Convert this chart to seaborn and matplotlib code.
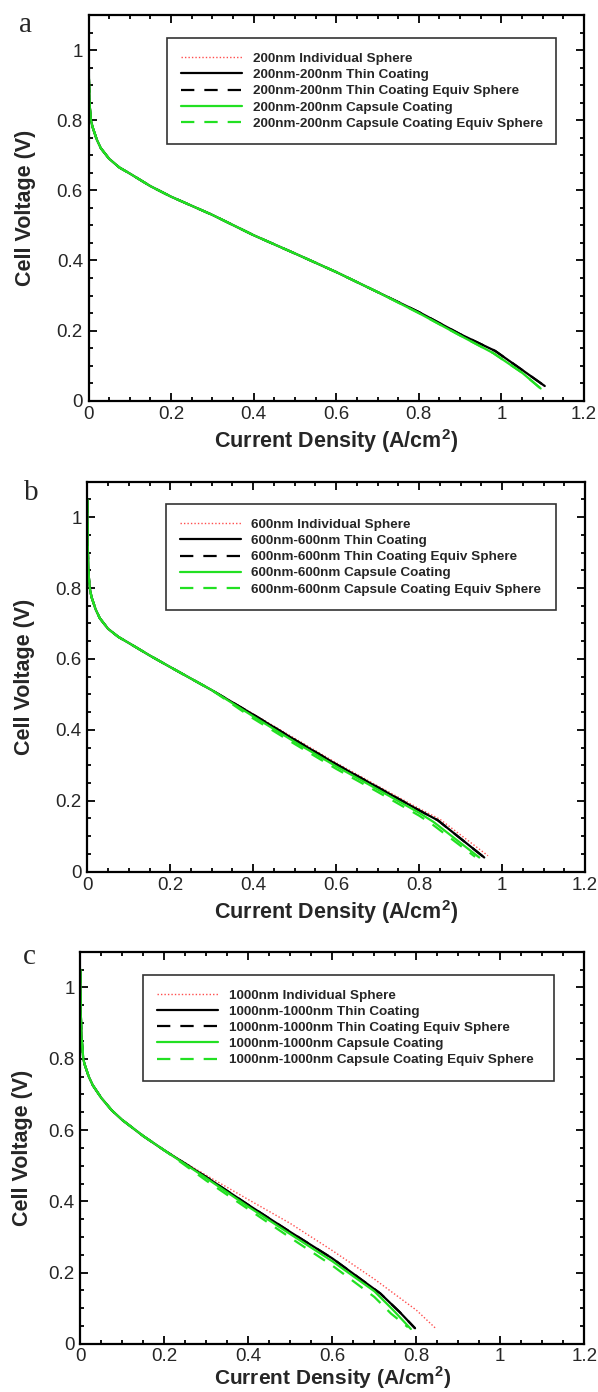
import seaborn as sns
import matplotlib.pyplot as plt
from matplotlib.ticker import MultipleLocator, FuncFormatter

# ---- panel a : 200nm ----
a_x_head = [0, 0.001, 0.003, 0.006, 0.01, 0.02, 0.03, 0.05, 0.075, 0.1, 0.15, 0.2, 0.3, 0.4, 0.5, 0.6, 0.7]
a_v_head = [1.05, 0.92, 0.84, 0.80, 0.78, 0.745, 0.72, 0.69, 0.665, 0.648, 0.612, 0.582, 0.53, 0.472, 0.42, 0.367, 0.31]
a_red_x = [0.8, 0.9, 0.985, 1.05, 1.105]
a_red_v = [0.253, 0.19, 0.142, 0.088, 0.042]
a_blk_x = [0.8, 0.9, 0.985, 1.05, 1.105]
a_blk_v = [0.253, 0.19, 0.142, 0.088, 0.042]
a_grn_x = [0.8, 0.9, 0.98, 1.05, 1.095]
a_grn_v = [0.25, 0.186, 0.136, 0.08, 0.035]

# ---- panel b : 600nm ----
b_x_head = [0, 0.001, 0.003, 0.006, 0.01, 0.02, 0.03, 0.05, 0.075, 0.1, 0.15, 0.2, 0.3]
b_v_head = [1.05, 0.92, 0.84, 0.80, 0.775, 0.74, 0.715, 0.685, 0.662, 0.645, 0.61, 0.577, 0.512]
b_red_x = [0.4, 0.5, 0.6, 0.7, 0.8, 0.85, 0.966]
b_red_v = [0.445, 0.376, 0.307, 0.242, 0.178, 0.148, 0.045]
b_blk_x = [0.4, 0.5, 0.6, 0.7, 0.8, 0.845, 0.957]
b_blk_v = [0.443, 0.372, 0.303, 0.238, 0.173, 0.145, 0.04]
b_grn_x = [0.4, 0.5, 0.6, 0.7, 0.8, 0.835, 0.945]
b_grn_v = [0.438, 0.366, 0.297, 0.232, 0.166, 0.14, 0.04]
b_grd_x = [0.4, 0.5, 0.6, 0.7, 0.8, 0.83, 0.935]
b_grd_v = [0.432, 0.36, 0.29, 0.225, 0.158, 0.135, 0.042]

# ---- panel c : 1000nm ----
c_x_head = [0, 0.001, 0.003, 0.007, 0.01, 0.02, 0.03, 0.05, 0.075, 0.1, 0.15, 0.2]
c_v_head = [1.05, 0.93, 0.86, 0.80, 0.785, 0.75, 0.725, 0.69, 0.655, 0.628, 0.583, 0.543]
c_red_x = [0.3, 0.4, 0.5, 0.6, 0.7, 0.8, 0.845]
c_red_v = [0.473, 0.405, 0.338, 0.262, 0.182, 0.095, 0.045]
c_blk_x = [0.3, 0.4, 0.5, 0.6, 0.714, 0.76, 0.797]
c_blk_v = [0.468, 0.39, 0.314, 0.24, 0.142, 0.09, 0.044]
c_grn_x = [0.3, 0.4, 0.5, 0.6, 0.7, 0.745, 0.787]
c_grn_v = [0.465, 0.385, 0.308, 0.232, 0.148, 0.095, 0.042]
c_grd_x = [0.3, 0.4, 0.5, 0.6, 0.7, 0.74, 0.78]
c_grd_v = [0.458, 0.378, 0.298, 0.22, 0.132, 0.085, 0.047]

names = ["{s}nm Individual Sphere", "{s}nm-{s}nm Thin Coating", "{s}nm-{s}nm Thin Coating Equiv Sphere",
         "{s}nm-{s}nm Capsule Coating", "{s}nm-{s}nm Capsule Coating Equiv Sphere"]

GREEN = "#22e022"
styles = [dict(color="#ff4d4d", lw=1.0, ls=(0, (1, 1.5))),
          dict(color="black", lw=1.6, ls="-"),
          dict(color="black", lw=1.6, ls=(0, (6, 4.5))),
          dict(color=GREEN, lw=1.6, ls="-"),
          dict(color=GREEN, lw=1.6, ls=(0, (6, 4.5)))]

panels = [
    dict(size=200, letter="a", head=(a_x_head, a_v_head),
         tails=[(a_red_x, a_red_v), (a_blk_x, a_blk_v), (a_blk_x, a_blk_v), (a_grn_x, a_grn_v), (a_grn_x, a_grn_v)],
         pos=[0.148, 0.7121, 0.8286, 0.2771], leg=(0.1584, 0.9396, 0.785), xpad=3, ypad=15, tpad=4, xfs=15.5),
    dict(size=600, letter="b", head=(b_x_head, b_v_head),
         tails=[(b_red_x, b_red_v), (b_blk_x, b_blk_v), (b_blk_x, b_blk_v), (b_grn_x, b_grn_v), (b_grd_x, b_grd_v)],
         pos=[0.146, 0.3738, 0.8323, 0.2802], leg=(0.158, 0.942, 0.784), xpad=3, ypad=15, tpad=4, xfs=15.5),
    dict(size=1000, letter="c", head=(c_x_head, c_v_head),
         tails=[(c_red_x, c_red_v), (c_blk_x, c_blk_v), (c_blk_x, c_blk_v), (c_grn_x, c_grn_v), (c_grd_x, c_grd_v)],
         pos=[0.1343, 0.0345, 0.8428, 0.2818], leg=(0.125, 0.9406, 0.815), xpad=-0.5, ypad=11, tpad=3, xfs=15),
]
letter_pos = [(26, 25), (31, 493), (29, 957)]

sns.set_style("ticks")
plt.rcParams['font.family'] = ['Liberation Sans', 'DejaVu Sans']
plt.rcParams['mathtext.fontset'] = 'custom'
plt.rcParams['mathtext.bf'] = 'Liberation Sans:bold'
plt.rcParams['mathtext.rm'] = 'Liberation Sans'

fig = plt.figure(figsize=(5.98, 13.92), dpi=100)
for p, (lx, ly) in zip(panels, letter_pos):
    ax = fig.add_axes(p["pos"])
    hx, hv = p["head"]
    for (tx, tv), st, nm in zip(p["tails"], styles, names):
        sns.lineplot(x=hx + tx, y=hv + tv, ax=ax, estimator=None, sort=False,
                     color=st["color"], lw=st["lw"], linestyle=st["ls"],
                     label=nm.format(s=p["size"]))
    ax.set_xlim(0, 1.2)
    ax.set_ylim(0, 1.1)
    ax.xaxis.set_major_locator(MultipleLocator(0.2))
    ax.xaxis.set_minor_locator(MultipleLocator(0.05))
    ax.yaxis.set_major_locator(MultipleLocator(0.2))
    ax.yaxis.set_minor_locator(MultipleLocator(0.05))
    fmt = FuncFormatter(lambda v, _: "%g" % round(v, 2))
    ax.xaxis.set_major_formatter(fmt)
    ax.yaxis.set_major_formatter(fmt)
    ax.tick_params(which="both", direction="in", top=True, right=True, width=1.3, color="black")
    ax.tick_params(which="major", length=6, labelsize=13.5, pad=4)
    ax.tick_params(axis="x", which="major", pad=p["tpad"])
    ax.tick_params(which="minor", length=3)
    for s in ax.spines.values():
        s.set_linewidth(1.6)
        s.set_color("black")
    ax.set_xlabel("Current Density (A/cm$^\\mathbf{2}$)", fontsize=p["xfs"], fontweight="bold", labelpad=p["xpad"])
    ax.set_ylabel("Cell Voltage (V)", fontsize=15.5, fontweight="bold", labelpad=p["ypad"])
    x0, ytop, w = p["leg"]
    leg = ax.legend(loc="upper left", bbox_to_anchor=(x0, ytop, w, 0), mode="expand",
                    borderaxespad=0, prop=dict(family="Liberation Sans", weight="bold", size=9.7),
                    handlelength=4.5, handletextpad=0.8, labelspacing=0.28, borderpad=1.05,
                    fancybox=False, framealpha=1)
    leg.get_frame().set_edgecolor("#333333")
    leg.get_frame().set_linewidth(1.2)
    fig.text(lx / 598, 1 - ly / 1392, p["letter"], family="Liberation Serif", fontsize=21,
             ha="center", va="center")

fig.savefig("out.png", dpi=100)
